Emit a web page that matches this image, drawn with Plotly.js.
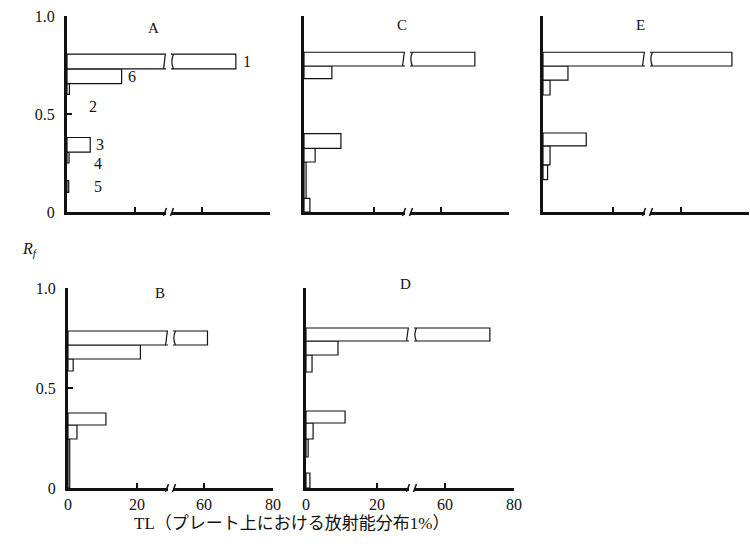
<!DOCTYPE html>
<html><head><meta charset="utf-8">
<script src="https://cdn.plot.ly/plotly-3.0.1.min.js"></script>
<style>html,body{margin:0;padding:0;background:#fff}#chart{width:750px;height:544px}</style>
</head><body><div id="chart"></div>
<script>
// ---- data (Rf bands and TL % per band, bottom to top) ----
const panelNames = ['A', 'C', 'E', 'B', 'D'];
const rfLowA  = [0.10, 0.25, 0.305, 0.60, 0.655, 0.73];
const rfHighA = [0.16, 0.305, 0.38, 0.655, 0.73, 0.805];
const tlA     = [0.5, 0.6, 6.8, 0.7, 16, 70];
const rfLowC  = [0, 0.07, 0.255, 0.325, 0.68, 0.745];
const rfHighC = [0.07, 0.255, 0.325, 0.40, 0.745, 0.815];
const tlC     = [1.7, 0.6, 3.2, 10.6, 8, 70];
const rfLowE  = [0.165, 0.24, 0.337, 0.597, 0.673, 0.745];
const rfHighE = [0.24, 0.337, 0.403, 0.673, 0.745, 0.815];
const tlE     = [1.3, 2, 12.3, 2, 7.1, 75];
const rfLowB  = [0, 0.245, 0.315, 0.585, 0.645, 0.715];
const rfHighB = [0.245, 0.315, 0.375, 0.645, 0.715, 0.785];
const tlB     = [0.5, 2.6, 11, 1.5, 21, 61];
const rfLowD  = [0, 0.155, 0.245, 0.325, 0.58, 0.665, 0.735];
const rfHighD = [0.075, 0.245, 0.325, 0.385, 0.665, 0.735, 0.80];
const tlD     = [1.1, 0.6, 2, 11, 1.7, 9, 73];
const xTicksLeft = [0, 20];
const xTicksRight = [60, 80];
const yTickVals = [0, 0.5, 1.0];
const yTickText = ['0', '0.5', '1.0'];
const xRangeLeft = [0, 29];
const xRangeRight = [51, 80];
const xTitle = 'TL（プレート上における放射能分布1%）';
const yTitle = '<i>R<sub>f</sub></i>';

// ---- layout geometry (pixels) ----
const W = 750, H = 544;
const fx = p => p / W, fy = p => 1 - p / H;
const frames = {
  A: {x0: 67,  xl: 166, xr: 171, x1: 270, top: 16,  bottom: 212, yLab: true,  xLab: false, lx: 153, ly: 28},
  C: {x0: 304, xl: 405, xr: 410, x1: 509, top: 16,  bottom: 212, yLab: false, xLab: false, lx: 402, ly: 25},
  E: {x0: 543, xl: 645, xr: 650, x1: 749, top: 16,  bottom: 212, yLab: false, xLab: false, lx: 640, ly: 25},
  B: {x0: 68,  xl: 168, xr: 173, x1: 273, top: 288, bottom: 488, yLab: true,  xLab: true,  lx: 160, ly: 293},
  D: {x0: 306, xl: 409, xr: 414, x1: 514, top: 288, bottom: 488, yLab: false, xLab: true,  lx: 405, ly: 284}
};
const series = {
  A: [rfLowA, rfHighA, tlA], C: [rfLowC, rfHighC, tlC], E: [rfLowE, rfHighE, tlE],
  B: [rfLowB, rfHighB, tlB], D: [rfLowD, rfHighD, tlD]
};

const FONT = 'Liberation Serif, DejaVu Serif, serif';
const INK = '#111';
const data = [], shapes = [], annotations = [];
const layout = {
  width: W, height: H, margin: {l: 0, r: 0, t: 0, b: 0},
  paper_bgcolor: '#fff', plot_bgcolor: 'rgba(0,0,0,0)',
  showlegend: false, barmode: 'overlay', hovermode: false,
  font: {family: FONT, color: INK, size: 16}
};
const sfx = n => (n === 1 ? '' : String(n));
const axBase = {
  showline: true, linecolor: INK, showgrid: false, zeroline: false,
  ticks: 'inside', ticklen: 5, tickwidth: 2, tickcolor: INK,
  tickfont: {family: FONT, size: 16, color: INK}, fixedrange: true, tickmode: 'array'
};
const note = (o) => annotations.push(Object.assign({showarrow: false, xanchor: 'center', yanchor: 'middle'}, o));

panelNames.forEach((name, i) => {
  const g = frames[name];
  const nL = 2 * i + 1, nR = 2 * i + 2, nY = i + 1;
  const xL = 'x' + sfx(nL), xR = 'x' + sfx(nR), yA = 'y' + sfx(nY);
  const [lo, hi, tl] = series[name];
  const yc = lo.map((l, k) => (l + hi[k]) / 2);
  const wd = lo.map((l, k) => hi[k] - l);
  [xL, xR].forEach(xa => data.push({
    type: 'bar', orientation: 'h', x: tl, y: yc, width: wd, base: 0,
    xaxis: xa, yaxis: yA,
    marker: {color: '#fff', line: {color: INK, width: 1.2}},
    hoverinfo: 'skip'
  }));
  layout['xaxis' + sfx(nL)] = Object.assign({}, axBase, {
    linewidth: 2.5, domain: [fx(g.x0), fx(g.xl)], range: xRangeLeft, anchor: yA,
    tickvals: xTicksLeft, showticklabels: g.xLab, ticklabelstandoff: 0
  });
  layout['xaxis' + sfx(nR)] = Object.assign({}, axBase, {
    linewidth: 2.5, domain: [fx(g.xr), fx(g.x1)], range: xRangeRight, anchor: yA,
    tickvals: xTicksRight, showticklabels: g.xLab, ticklabelstandoff: 0
  });
  const yax = Object.assign({}, axBase, {
    linewidth: 3, domain: [fy(g.bottom), fy(g.top)], range: [0, 1], anchor: xL,
    tickvals: g.yLab ? yTickVals : [0, 1.0], showticklabels: g.yLab, ticklabelstandoff: 6
  });
  if (g.yLab) yax.ticktext = yTickText;
  layout['yaxis' + sfx(nY)] = yax;
  // break edges on bars crossing the axis break
  tl.forEach((v, k) => {
    if (v > xRangeLeft[1]) {
      shapes.push({type: 'line', xref: xL, yref: yA, x0: xRangeLeft[1] - 0.7, x1: xRangeLeft[1] - 0.2,
        y0: lo[k], y1: hi[k], line: {color: INK, width: 1.2}});
      const m = (lo[k] + hi[k]) / 2, a = xRangeRight[0] + 0.7;
      shapes.push({type: 'path', xref: xR, yref: yA,
        path: `M ${a},${lo[k]} Q ${a - 0.9},${m} ${a},${hi[k]}`, line: {color: INK, width: 1.2}});
    }
  });
  // axis break marks
  [[g.xl - 2.5, g.xl + 0.5], [g.xr - 0.5, g.xr + 2.5]].forEach(([a, b]) => shapes.push({
    type: 'line', xref: 'paper', yref: 'paper',
    x0: fx(a), y0: fy(g.bottom + 4), x1: fx(b), y1: fy(g.bottom - 4),
    line: {color: INK, width: 1.5}
  }));
  // panel letter
  note({xref: 'paper', yref: 'paper', x: fx(g.lx), y: fy(g.ly), text: name,
    font: {family: FONT, size: 15, color: INK}});
  if (name === 'A') {
    const lab = (t, x, y, xa, anchor, xs) => note({xref: xa, yref: yA, x: x, y: y, text: t,
      xanchor: anchor, xshift: xs || 0, font: {family: FONT, size: 16, color: INK}});
    lab('1', tl[5], yc[5], xR, 'left', 5);
    lab('6', tl[4], yc[4], xL, 'left', 4);
    lab('3', tl[2], yc[2], xL, 'left', 4);
    lab('2', 7.6, 0.536, xL, 'center');
    lab('4', 9.1, 0.25, xL, 'center');
    lab('5', 9.1, 0.128, xL, 'center');
  }
});

note({xref: 'paper', yref: 'paper', x: fx(30), y: fy(250), text: yTitle,
  font: {family: FONT, size: 16, color: INK}});
note({xref: 'paper', yref: 'paper', x: fx(291), y: fy(523), text: xTitle,
  font: {family: 'Liberation Serif, Noto Sans CJK JP, serif', size: 17, color: INK}});

layout.shapes = shapes;
layout.annotations = annotations;
Plotly.newPlot('chart', data, layout, {displayModeBar: false, staticPlot: true});
</script>
</body></html>
